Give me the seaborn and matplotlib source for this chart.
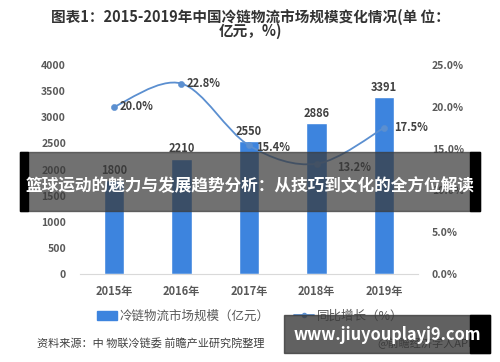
import matplotlib
matplotlib.use("Agg")
import matplotlib.pyplot as plt
import seaborn as sns
import pandas as pd
import numpy as np
from matplotlib.path import Path
from matplotlib.patches import PathPatch, Rectangle
from matplotlib.lines import Line2D
from matplotlib.patches import Patch

# 数据
years = ['2015年', '2016年', '2017年', '2018年', '2019年']
market_size = [1800, 2210, 2550, 2886, 3391]
growth = [20.0, 22.8, 15.4, 13.2, 17.5]

sns.set_style('white')
plt.rcParams['font.family'] = ['Noto Sans CJK SC', 'DejaVu Sans']

bar_color = '#3d84de'
line_color = '#5b8fd0'
txt = '#595959'

df = pd.DataFrame({'year': years, 'size': market_size, 'growth': growth})

fig = plt.figure(figsize=(5, 3.62), dpi=100)
ax = fig.add_axes([0.16, 0.243, 0.676, 0.577])

sns.barplot(data=df, x='year', y='size', color=bar_color, width=0.3,
            saturation=1, ax=ax)
ax.set_ylim(0, 4000)
ax.set_xlim(-0.5, 4.5)
ax.set_yticks(range(0, 4001, 500))
ax.set_xlabel('')
ax.set_ylabel('')
for s in ['top', 'right', 'left']:
    ax.spines[s].set_visible(False)
ax.spines['bottom'].set_color('#d9d9d9')
ax.tick_params(axis='y', length=0, labelsize=7.5, labelcolor=txt, pad=10)
ax.tick_params(axis='x', length=0, labelsize=8, labelcolor=txt, pad=8)
for lab in ax.get_xticklabels():
    lab.set_fontweight('bold')
for lab in ax.get_yticklabels():
    lab.set_fontweight('bold')

for i, v in enumerate(market_size):
    ax.text(i, v + 60, str(v), ha='center', va='bottom', fontsize=8,
            color='#404040', fontweight='bold')

# 同比增长 曲线
ax2 = ax.twinx()
ax2.set_ylim(0, 25)
ax2.set_yticks(range(0, 26, 5))
ax2.set_yticklabels([f'{t:.1f}%' for t in range(0, 26, 5)])
for s in ['top', 'right', 'left', 'bottom']:
    ax2.spines[s].set_visible(False)
ax2.tick_params(axis='y', length=0, labelsize=7.5, labelcolor=txt, pad=10)
for lab in ax2.get_yticklabels():
    lab.set_fontweight('bold')

pts = np.column_stack([np.arange(len(growth)), growth]).astype(float)
ext = np.vstack([pts[0], pts, pts[-1]])
verts = [tuple(pts[0])]
codes = [Path.MOVETO]
for i in range(len(pts) - 1):
    p0, p1, p2, p3 = ext[i], ext[i + 1], ext[i + 2], ext[i + 3]
    c1 = p1 + (p2 - p0) / 6
    c2 = p2 - (p3 - p1) / 6
    verts += [tuple(c1), tuple(c2), tuple(p2)]
    codes += [Path.CURVE4] * 3
ax2.add_patch(PathPatch(Path(verts, codes), fill=False, edgecolor=line_color, lw=1.3))
sns.scatterplot(x=np.arange(len(growth)), y=growth, color=line_color, s=20,
                edgecolor=line_color, ax=ax2, zorder=5)

offsets = [(0.08, 0, 'left'), (0.08, 0, 'left'), (0.1, -0.3, 'left'),
           (0.3, -0.4, 'left'), (0.15, 0, 'left')]
for i, v in enumerate(growth):
    dx, dy, ha = offsets[i]
    ax2.text(i + dx, v + dy, f'{v:.1f}%', ha=ha, va='center', fontsize=8,
             color='#404040', fontweight='bold')

fig.text(0.5, 0.953, '图表1：2015-2019年中国冷链物流市场规模变化情况(单 位：',
         ha='center', va='center', fontsize=10.5, fontweight='bold', color='#333333')
fig.text(0.5, 0.915, '亿元，%)', ha='center', va='center', fontsize=10.5,
         fontweight='bold', color='#333333')

handles = [Patch(color=bar_color),
           Line2D([0], [0], color=line_color, marker='o', markersize=3, lw=1.3)]
fig.legend(handles, ['冷链物流市场规模（亿元）', '同比增长（%）'], ncol=2,
           loc='center', bbox_to_anchor=(0.5, 0.127), frameon=False,
           fontsize=9, labelcolor=txt, handlelength=1.6, columnspacing=2.0,
           handletextpad=0.2)

fig.text(0.074, 0.052, '资料来源：中 物联冷链委 前瞻产业研究院整理', ha='left', va='center',
         fontsize=8, color='#404040')
fig.text(0.95, 0.052, '@前瞻经济学人APP', ha='right', va='center',
         fontsize=8, color='#404040')

# 覆盖横幅
fig.patches.append(Rectangle((0.04, 1 - 211 / 362), 0.92, 59 / 362,
                             transform=fig.transFigure, color='#3a3a3a', alpha=0.72, zorder=10))
fig.patches.append(Rectangle((0.04, 1 - 211 / 362), 0.016, 59 / 362,
                             transform=fig.transFigure, color='black', zorder=10))
fig.patches.append(Rectangle((0.94, 1 - 211 / 362), 0.02, 59 / 362,
                             transform=fig.transFigure, color='black', zorder=10))
fig.text(0.5, 1 - 186 / 362, '篮球运动的魅力与发展趋势分析：从技巧到文化的全方位解读',
         ha='center', va='center', fontsize=12.0, fontweight='bold', color='white', zorder=11)

fig.patches.append(Rectangle((0.568, 1 - 353 / 362), 0.412, 38 / 362,
                             transform=fig.transFigure, color='#3a3a3a', alpha=0.8, zorder=10))
fig.patches.append(Rectangle((0.94, 1 - 353 / 362), 0.04, 38 / 362,
                             transform=fig.transFigure, color='black', zorder=10))
fig.text(0.775, 1 - 335 / 362, 'www.jiuyouplayj9.com', ha='center', va='center',
         fontsize=11.8, fontweight='bold', color='white', zorder=11)

fig.savefig('out.png', dpi=100)
